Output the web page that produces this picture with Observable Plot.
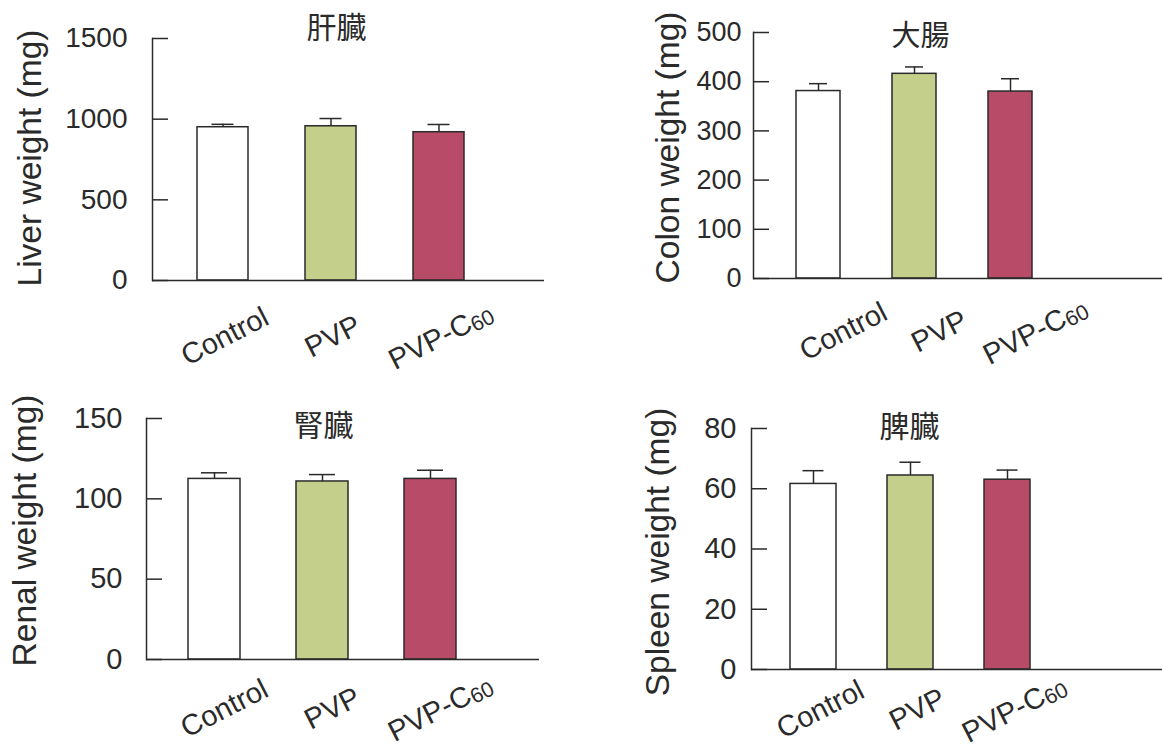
<!DOCTYPE html>
<html><head><meta charset="utf-8">
<script src="https://cdn.jsdelivr.net/npm/d3@7"></script>
<script src="https://cdn.jsdelivr.net/npm/@observablehq/plot@0.6"></script>
<style>
body{margin:0;background:#fff;}
#wrap{position:relative;width:1162px;height:749px;overflow:hidden;background:#fff;}
.panel{position:absolute;}
</style></head><body><div id="wrap"></div>
<script>
// ---- data ----
const groups = ["Control", "PVP", "PVP-C60"];
const groupColors = ["#ffffff", "#c5cf8c", "#b84c68"];

const liverMean = [950, 956, 919];
const liverUpper = [968, 1004, 967];
const liverTicks = [0, 500, 1000, 1500];

const colonMean = [381, 416, 380];
const colonUpper = [396, 430, 406];
const colonTicks = [0, 100, 200, 300, 400, 500];

const renalMean = [112.4, 110.8, 112.4];
const renalUpper = [116.2, 115.1, 117.8];
const renalTicks = [0, 50, 100, 150];

const spleenMean = [61.6, 64.4, 63.0];
const spleenUpper = [66.0, 68.8, 66.2];
const spleenTicks = [0, 20, 40, 60, 80];

const titles = ["肝臓", "大腸", "腎臓", "脾臓"];
const yLabels = ["Liver weight (mg)", "Colon weight (mg)", "Renal weight (mg)", "Spleen weight (mg)"];

// ---- layout ----
const ink = "#2a2a2a";
const panels = [
  {title: titles[0], ylabel: yLabels[0], mean: liverMean, upper: liverUpper, ticks: liverTicks,
   left: 0, top: 0, width: 560, height: 375, mL: 152, mR: 16, mT: 38, mB: 95,
   xr: [196, 465], pad: 0.532, cap: 14.5, tickFont: 28, tickPad: 41,
   titleX: 336, titleY: 27.5, titleFont: 30, labX: 30, labY: 157.5, xDx: 2, xPad: 56},
  {title: titles[1], ylabel: yLabels[1], mean: colonMean, upper: colonUpper, ticks: colonTicks,
   left: 580, top: 0, width: 582, height: 375, mL: 173, mR: 0, mT: 32, mB: 97,
   xr: [215, 453], pad: 0.546, cap: 13, tickFont: 27, tickPad: 28,
   titleX: 340, titleY: 36.5, titleFont: 29, labX: 88, labY: 147, xDx: 25, xPad: 53},
  {title: titles[2], ylabel: yLabels[2], mean: renalMean, upper: renalUpper, ticks: renalTicks,
   left: 0, top: 380, width: 560, height: 369, mL: 146, mR: 21, mT: 38, mB: 90,
   xr: [187, 456], pad: 0.521, cap: 13, tickFont: 29, tickPad: 40,
   titleX: 323, titleY: 46, titleFont: 30, labX: 24.5, labY: 150, xDx: 10, xPad: 49},
  {title: titles[3], ylabel: yLabels[3], mean: spleenMean, upper: spleenUpper, ticks: spleenTicks,
   left: 580, top: 380, width: 582, height: 369, mL: 171, mR: 0, mT: 48, mB: 80,
   xr: [210, 450], pad: 0.526, cap: 12.5, tickFont: 29, tickPad: 31,
   titleX: 329, titleY: 47, titleFont: 30, labX: 77.5, labY: 171.5, xDx: 7, xPad: 40}
];

const wrap = document.getElementById("wrap");
const SVGNS = "http://www.w3.org/2000/svg";

for (const p of panels) {
  const data = groups.map((g, i) => ({group: g, mean: p.mean[i], upper: p.upper[i]}));
  const frameCX = (p.mL + p.width - p.mR) / 2;
  const frameCY = (p.mT + p.height - p.mB) / 2;
  const chart = Plot.plot({
    width: p.width,
    height: p.height,
    marginLeft: p.mL, marginRight: p.mR, marginTop: p.mT, marginBottom: p.mB,
    style: {fontFamily: "'Liberation Sans', Arial, Helvetica, sans-serif", color: ink, background: "transparent", overflow: "visible"},
    x: {domain: groups, range: p.xr, paddingInner: p.pad, paddingOuter: 0, axis: null},
    y: {domain: [p.ticks[0], p.ticks[p.ticks.length - 1]], axis: null},
    color: {domain: groups, range: groupColors},
    marks: [
      Plot.barY(data, {x: "group", y: "mean", fill: "group", stroke: ink, strokeWidth: 1.5}),
      Plot.ruleX(data, {x: "group", y1: "mean", y2: "upper", stroke: ink, strokeWidth: 1.5}),
      Plot.tickY(data, {x: "group", y: "upper", stroke: ink, strokeWidth: 1.5, insetLeft: p.cap, insetRight: p.cap}),
      Plot.ruleY([0], {stroke: ink, strokeWidth: 1.5}),
      Plot.frame({anchor: "left", stroke: ink, strokeWidth: 1.5}),
      Plot.axisY({ticks: p.ticks, tickSize: -16, tickPadding: p.tickPad, fontSize: p.tickFont, label: null, tickFormat: d => String(d), strokeWidth: 1.5}),
      Plot.axisX({tickSize: 0, tickRotate: -27, tickPadding: p.xPad, dx: p.xDx, fontSize: 29, label: null,
        textAnchor: "middle", lineAnchor: "middle"}),
      Plot.text([p.title], {frameAnchor: "top", textAnchor: "middle", lineAnchor: "middle",
        dx: p.titleX - frameCX, dy: p.titleY - p.mT, fontSize: p.titleFont,
        fontFamily: "'Noto Sans CJK JP', 'Noto Sans CJK SC', sans-serif", fill: ink}),
      Plot.text([p.ylabel], {frameAnchor: "left", textAnchor: "middle", lineAnchor: "middle", rotate: -90,
        dx: p.labX - p.mL, dy: p.labY - frameCY, fontSize: 33.5, fill: ink})
    ]
  });
  chart.classList.add("panel");
  chart.style.left = p.left + "px";
  chart.style.top = p.top + "px";
  // subscript "60" in PVP-C60 tick label
  chart.querySelectorAll("text").forEach(t => {
    if (t.textContent === "PVP-C60" && t.childNodes.length === 1) {
      t.textContent = "PVP-C";
      const s = document.createElementNS(SVGNS, "tspan");
      s.setAttribute("font-size", "0.74em");
      s.setAttribute("dy", "0.12em");
      s.textContent = "60";
      t.appendChild(s);
    }
  });
  wrap.appendChild(chart);
}
</script></body></html>
